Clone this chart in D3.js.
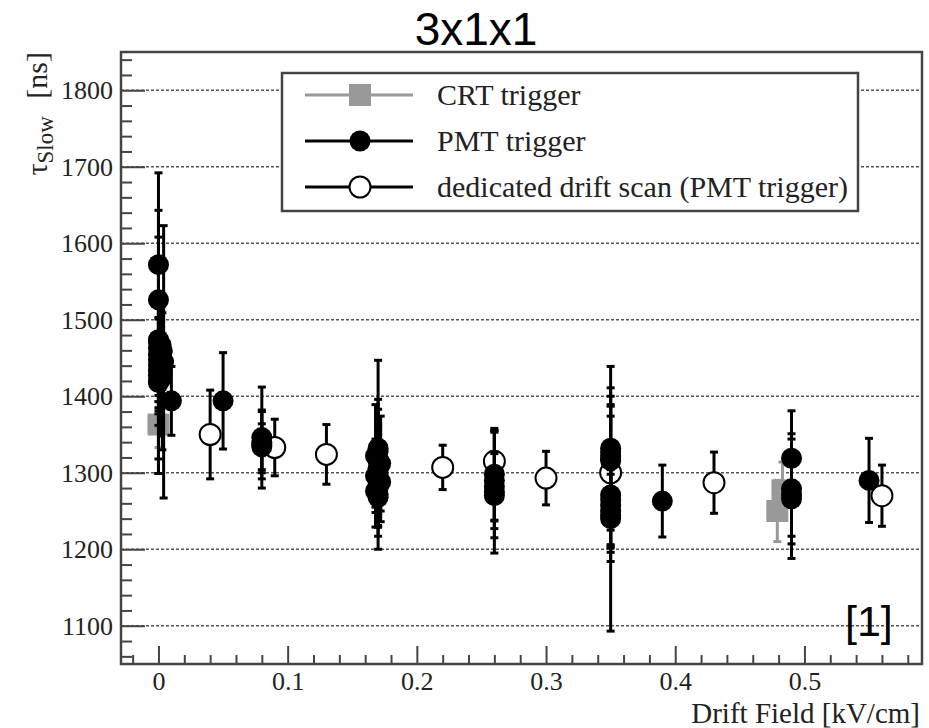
<!DOCTYPE html>
<html>
<head>
<meta charset="utf-8">
<script src="https://cdn.jsdelivr.net/npm/d3@7"></script>
<style>
  html, body { margin: 0; padding: 0; background: #fff; }
  svg { display: block; }
</style>
</head>
<body>
<svg id="chart" width="929" height="728"></svg>
<script>
// Slow-component lifetime versus drift field, three trigger samples.
// Each series: field [kV/cm], tau_slow [ns], symmetric error [ns].
const crtField = [0.000, 0.479, 0.483];
const crtTau   = [1363, 1250, 1277];
const crtErr   = [30, 40, 37];

const pmtField = [
  0.000, 0.000, 0.000, 0.000, 0.002, 0.000, 0.003, 0.000, 0.002, 0.000,
  0.004, 0.000, 0.002, 0.000, 0.003, 0.000, 0.002, 0.000, 0.000,
  0.010, 0.050,
  0.080, 0.080, 0.080, 0.080,
  0.170, 0.170, 0.168, 0.170, 0.172, 0.170, 0.170, 0.168, 0.170, 0.172,
  0.170, 0.170, 0.168, 0.170, 0.170,
  0.260, 0.260, 0.260, 0.260, 0.260,
  0.350, 0.350, 0.350, 0.350, 0.350, 0.350, 0.350, 0.350, 0.350, 0.350, 0.350,
  0.390,
  0.490, 0.490, 0.490, 0.490,
  0.550
];
const pmtTau = [
  1572, 1526, 1474, 1471, 1467, 1463, 1459, 1455, 1452, 1448,
  1445, 1441, 1437, 1434, 1430, 1427, 1423, 1420, 1418,
  1394, 1394,
  1346, 1340, 1337, 1334,
  1332, 1328, 1322, 1317, 1312, 1306, 1300, 1296, 1292, 1288,
  1284, 1280, 1276, 1272, 1268,
  1298, 1290, 1282, 1275, 1270,
  1332, 1327, 1322, 1318, 1316, 1271, 1265, 1258, 1250, 1244, 1240,
  1263,
  1319, 1279, 1272, 1266,
  1290
];
const pmtErr = [
  120, 82, 58, 172, 45, 62, 50, 70, 48, 55,
  178, 60, 52, 135, 100, 50, 75, 58, 100,
  45, 63,
  66, 40, 45, 30,
  115, 68, 67, 66, 62, 55, 50, 48, 45, 52,
  55, 49, 47, 43, 68,
  60, 63, 45, 80, 55,
  107, 73, 89, 71, 58, 67, 69, 52, 48, 60, 147,
  47,
  62, 72, 55, 78,
  55
];

const scanField = [0.04, 0.09, 0.13, 0.22, 0.26, 0.30, 0.35, 0.43, 0.56];
const scanTau   = [1350, 1333, 1324, 1307, 1315, 1293, 1300, 1287, 1270];
const scanErr   = [58, 37, 39, 29, 40, 35, 40, 40, 40];

const xMajor = [0, 0.1, 0.2, 0.3, 0.4, 0.5];
const xMajorLabels = ["0", "0.1", "0.2", "0.3", "0.4", "0.5"];
const yMajor = [1100, 1200, 1300, 1400, 1500, 1600, 1700, 1800];

const legendLabels = ["CRT trigger", "PMT trigger", "dedicated drift scan (PMT trigger)"];

const SERIF = "'Liberation Serif', 'DejaVu Serif', serif";
const SANS = "'Liberation Sans', Arial, sans-serif";

const toRows = (f, t, e) => f.map((v, i) => ({ x: v, y: t[i], e: e[i] }));
const crt = toRows(crtField, crtTau, crtErr);
const pmt = toRows(pmtField, pmtTau, pmtErr);
const scan = toRows(scanField, scanTau, scanErr);

const frame = { left: 121, right: 922, top: 52, bottom: 664 };
const x = d3.scaleLinear().domain([-0.029, 0.591]).range([frame.left, frame.right]);
const y = d3.scaleLinear().domain([1050, 1850]).range([frame.bottom, frame.top]);

const svg = d3.select("#chart");
const grey = "#999";
const axisCol = "#444";

// Title
svg.append("text").attr("font-family", SANS)
  .attr("x", 476).attr("y", 45).attr("text-anchor", "middle")
  .attr("font-size", 46).attr("fill", "#000").text("3x1x1");

// Horizontal dotted grid at major y ticks
svg.append("g").selectAll("line").data(yMajor).join("line")
  .attr("x1", frame.left).attr("x2", frame.right)
  .attr("y1", d => y(d)).attr("y2", d => y(d))
  .attr("stroke", "#555").attr("stroke-width", 1.4)
  .attr("stroke-dasharray", "3,2");

// Axes (ticks pointing inward)
const minorY = d3.range(1060, 1850, 20).filter(v => v % 100 !== 0);
const minorX = d3.range(-0.02, 0.59, 0.02).map(v => +v.toFixed(2))
  .filter(v => Math.abs(Math.round(v * 10) - v * 10) > 1e-6);

const yAxis = svg.append("g").attr("transform", `translate(${frame.left},0)`)
  .call(d3.axisLeft(y).tickValues(yMajor).tickSize(-24).tickPadding(8).tickFormat(d3.format("d")));
const yMinor = svg.append("g").attr("transform", `translate(${frame.left},0)`)
  .call(d3.axisLeft(y).tickValues(minorY).tickSize(-11).tickFormat(""));
const xAxis = svg.append("g").attr("transform", `translate(0,${frame.bottom})`)
  .call(d3.axisBottom(x).tickValues(xMajor).tickSize(-18).tickPadding(8)
    .tickFormat((d, i) => xMajorLabels[i]));
const xMinor = svg.append("g").attr("transform", `translate(0,${frame.bottom})`)
  .call(d3.axisBottom(x).tickValues(minorX).tickSize(-9).tickFormat(""));

[yAxis, yMinor, xAxis, xMinor].forEach(g => {
  g.attr("font-family", SERIF).attr("font-size", 26);
  g.select(".domain").remove();
  g.selectAll(".tick line").attr("stroke", axisCol).attr("stroke-width", 2);
  g.selectAll(".tick text").attr("font-family", SERIF).attr("font-size", 26).attr("fill", "#222");
});

// Error bars with short caps
function errorBars(rows, colour) {
  const g = svg.append("g");
  g.selectAll("line.bar").data(rows).join("line").attr("class", "bar")
    .attr("x1", d => x(d.x)).attr("x2", d => x(d.x))
    .attr("y1", d => y(d.y - d.e)).attr("y2", d => y(d.y + d.e))
    .attr("stroke", colour).attr("stroke-width", 3);
  const caps = rows.flatMap(d => [{ x: d.x, v: d.y - d.e }, { x: d.x, v: d.y + d.e }]);
  g.selectAll("line.cap").data(caps).join("line").attr("class", "cap")
    .attr("x1", d => x(d.x) - 4).attr("x2", d => x(d.x) + 4)
    .attr("y1", d => y(d.v)).attr("y2", d => y(d.v))
    .attr("stroke", colour).attr("stroke-width", 3);
}

// CRT trigger: grey squares
errorBars(crt, grey);
svg.append("g").selectAll("rect").data(crt).join("rect")
  .attr("x", d => x(d.x) - 11).attr("y", d => y(d.y) - 11)
  .attr("width", 22).attr("height", 22).attr("fill", grey);

// Dedicated drift scan: open circles
errorBars(scan, "#000");
svg.append("g").selectAll("circle").data(scan).join("circle")
  .attr("cx", d => x(d.x)).attr("cy", d => y(d.y)).attr("r", 10.5)
  .attr("fill", "#fff").attr("stroke", "#000").attr("stroke-width", 2);

// PMT trigger: filled circles
errorBars(pmt, "#000");
svg.append("g").selectAll("circle").data(pmt).join("circle")
  .attr("cx", d => x(d.x)).attr("cy", d => y(d.y)).attr("r", 10.5)
  .attr("fill", "#000");

// Frame
svg.append("rect").attr("x", frame.left).attr("y", frame.top)
  .attr("width", frame.right - frame.left).attr("height", frame.bottom - frame.top)
  .attr("fill", "none").attr("stroke", axisCol).attr("stroke-width", 2.5);

// Axis titles
svg.append("text").attr("font-family", SERIF)
  .attr("x", 920).attr("y", 723).attr("text-anchor", "end")
  .attr("font-size", 29).attr("fill", "#222").text("Drift Field [kV/cm]");

const yTitle = svg.append("text").attr("font-family", SERIF)
  .attr("transform", `translate(47,${frame.top}) rotate(-90)`)
  .attr("text-anchor", "end").attr("font-size", 30).attr("fill", "#222");
yTitle.append("tspan").text("\u03c4");
yTitle.append("tspan").attr("font-size", 23).attr("dy", 6).text("Slow");
yTitle.append("tspan").attr("dy", -6).attr("dx", 10).text(" [ns]");

// Legend
const leg = { left: 282, top: 73, right: 858, bottom: 211 };
svg.append("rect").attr("x", leg.left).attr("y", leg.top)
  .attr("width", leg.right - leg.left).attr("height", leg.bottom - leg.top)
  .attr("fill", "#fff").attr("stroke", axisCol).attr("stroke-width", 2.5);
const rowsY = [95, 141, 187];
const legColours = [grey, "#000", "#000"];
legendLabels.forEach((lab, i) => {
  const ry = rowsY[i];
  svg.append("line").attr("x1", 305).attr("x2", 413).attr("y1", ry).attr("y2", ry)
    .attr("stroke", legColours[i]).attr("stroke-width", 3);
  if (i === 0) {
    svg.append("rect").attr("x", 360 - 11).attr("y", ry - 11).attr("width", 22).attr("height", 22).attr("fill", grey);
  } else if (i === 1) {
    svg.append("circle").attr("cx", 360).attr("cy", ry).attr("r", 10.5).attr("fill", "#000");
  } else {
    svg.append("circle").attr("cx", 360).attr("cy", ry).attr("r", 10.5)
      .attr("fill", "#fff").attr("stroke", "#000").attr("stroke-width", 2);
  }
  svg.append("text").attr("font-family", SERIF).attr("x", 437).attr("y", ry + 10)
    .attr("font-size", 30).attr("fill", "#222").text(lab);
});

// Reference tag
svg.append("text").attr("font-family", SANS)
  .attr("x", 845).attr("y", 636).attr("font-size", 43).attr("fill", "#000").text("[1]");
</script>
</body>
</html>
